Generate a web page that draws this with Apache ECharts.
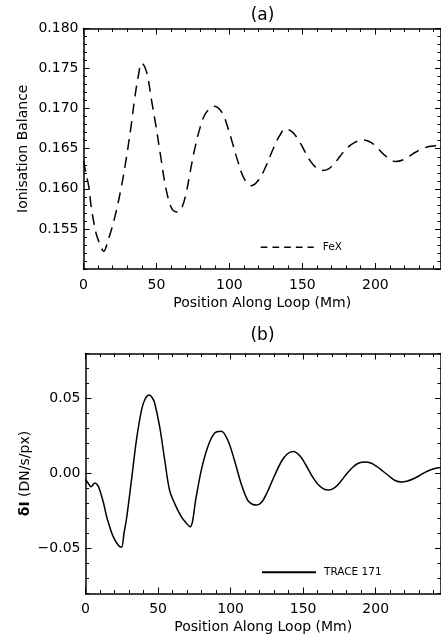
<!DOCTYPE html>
<html>
<head>
<meta charset="utf-8">
<script src="https://cdn.jsdelivr.net/npm/echarts@6/dist/echarts.min.js"></script>
<style>
html,body{margin:0;padding:0;background:#fff;}
#chart{width:441px;height:641px;}
</style>
</head>
<body>
<div id="chart"></div>
<script>
// ---------- Data ----------
const titlesText = ['(a)', '(b)'];
const xAxisName = 'Position Along Loop (Mm)';
const yNameA = 'Ionisation Balance';
const yNameB = '{b|δI} (DN/s/px)';
const seriesNameA = 'FeX';
const seriesNameB = 'TRACE 171';

// Panel (a): FeX ionisation balance
const xA = [0, 1.5, 3.7, 5.1, 7.2, 9, 11.5, 13.8, 16.9, 21.5, 26, 29.5, 32.9, 35.1, 37.5, 39.8, 42, 44.2, 46.5, 49.5, 52.5, 56, 59, 61.5, 64.5, 67.5, 70.4, 73, 76, 80, 84, 89.7, 95, 99, 102.1, 106, 110, 115, 120, 125, 130, 134, 138.5, 143, 147, 151, 155, 159, 163.5, 168, 172, 176, 180, 186, 191.9, 197, 202, 207, 214, 220, 226, 232, 238, 245];
const yA = [0.1635, 0.1621, 0.1602, 0.1580, 0.1557, 0.1542, 0.1530, 0.1522, 0.1536, 0.1565, 0.1603, 0.1640, 0.1682, 0.1713, 0.1740, 0.1757, 0.1752, 0.1738, 0.1712, 0.1680, 0.1645, 0.1605, 0.1582, 0.1573, 0.1571, 0.1577, 0.1595, 0.1620, 0.1648, 0.1677, 0.1695, 0.1703, 0.1695, 0.1676, 0.1657, 0.1633, 0.1613, 0.1604, 0.1611, 0.1628, 0.1650, 0.1665, 0.1675, 0.1671, 0.1662, 0.1649, 0.1636, 0.1627, 0.1623, 0.1625, 0.1632, 0.1641, 0.1650, 0.1658, 0.1661, 0.1658, 0.1650, 0.1641, 0.1634, 0.1637, 0.1644, 0.1650, 0.1653, 0.1654];

// Panel (b): TRACE 171 intensity perturbation
const xB = [0, 1.5, 3.8, 6.5, 8.5, 10, 12.5, 14.6, 16.5, 19.1, 22.5, 24.8, 26.5, 28.3, 31.7, 35.1, 38.6, 41, 43.8, 46, 47.7, 51.1, 54.6, 57.9, 61.4, 66, 69.5, 72.1, 76.3, 79.8, 84.3, 88.9, 93.5, 98, 102.6, 107.2, 111.7, 115, 118, 121.5, 125, 130, 135, 139, 143.2, 148, 152, 156, 160, 164, 167.8, 172, 176, 180, 184, 188, 192.7, 197, 201, 205, 209, 213, 217.9, 222, 226, 230, 234, 238, 242, 245];
const yB = [-0.0040, -0.0060, -0.0088, -0.0064, -0.0080, -0.0115, -0.0200, -0.0288, -0.0350, -0.0421, -0.0477, -0.0492, -0.0400, -0.0300, -0.0043, 0.0223, 0.0423, 0.0495, 0.0523, 0.0505, 0.0468, 0.0312, 0.0090, -0.0110, -0.0199, -0.0288, -0.0332, -0.0355, -0.0155, 0.0023, 0.0179, 0.0268, 0.0281, 0.0223, 0.0090, -0.0066, -0.0177, -0.0205, -0.0210, -0.0190, -0.0130, -0.0020, 0.0080, 0.0130, 0.0146, 0.0115, 0.0055, -0.0015, -0.0070, -0.0102, -0.0110, -0.0092, -0.0052, -0.0002, 0.0040, 0.0068, 0.0077, 0.0068, 0.0045, 0.0015, -0.0015, -0.0045, -0.0057, -0.0050, -0.0035, -0.0015, 0.0008, 0.0025, 0.0037, 0.0040];

// Axis ranges / ticks
const xRange = [0, 245];
const xMajor = 50, xMinor = 10;
const yRangeA = [0.150, 0.180];
const yMajorA = 0.005, yMinorA = 0.001;
const yRangeB = [-0.08, 0.08];
const yMajorValsB = [-0.05, 0, 0.05];
const yMinorB = 0.01;

// ---------- Styles ----------
const FONT = 'DejaVu Sans';
const INK = '#000';
const grids = [
  { left: 83.5, top: 28.5, width: 359, height: 240.5 },
  { left: 85.5, top: 353.5, width: 357, height: 240 }
];

const LINE_ON = { show: true, onZero: false, lineStyle: { color: INK, width: 1.5 } };
const LINE_OFF = { show: false, onZero: false };
const TICK_MAJ = { show: true, inside: true, length: 6, lineStyle: { color: INK, width: 1 } };
const TICK_MIN = { show: true, inside: true, length: 3.5, lineStyle: { color: INK, width: 1 } };

function xAxes(gi) {
  const base = { gridIndex: gi, type: 'value', min: xRange[0], max: xRange[1], splitLine: { show: false } };
  return [
    Object.assign({}, base, {
      position: 'bottom', interval: xMajor,
      axisLine: LINE_ON, axisTick: TICK_MAJ,
      axisLabel: { show: true, margin: 9, color: INK, fontFamily: FONT, fontSize: 14, showMaxLabel: false },
      name: xAxisName, nameLocation: 'middle', nameGap: 27, nameMoveOverlap: false,
      nameTextStyle: { color: INK, fontFamily: FONT, fontSize: 14 }
    }),
    Object.assign({}, base, {
      position: 'bottom', interval: xMinor,
      axisLine: LINE_OFF, axisTick: TICK_MIN, axisLabel: { show: false }
    }),
    Object.assign({}, base, {
      position: 'top', interval: xMajor,
      axisLine: LINE_ON, axisTick: TICK_MAJ, axisLabel: { show: false }
    }),
    Object.assign({}, base, {
      position: 'top', interval: xMinor,
      axisLine: LINE_OFF, axisTick: TICK_MIN, axisLabel: { show: false }
    })
  ];
}

function fmtB(v) {
  const s = Math.abs(v).toFixed(2);
  return (v < -1e-9 ? '\u2212' : '') + s;
}

const yAxis = [
  // panel a
  { gridIndex: 0, type: 'value', position: 'left', min: yRangeA[0], max: yRangeA[1], interval: yMajorA,
    splitLine: { show: false }, axisLine: LINE_ON, axisTick: TICK_MAJ,
    axisLabel: { show: true, margin: 5, color: INK, fontFamily: FONT, fontSize: 14, showMinLabel: false,
      formatter: v => v.toFixed(3) },
    name: yNameA, nameLocation: 'middle', nameGap: 53, nameMoveOverlap: false,
    nameTextStyle: { color: INK, fontFamily: FONT, fontSize: 14 } },
  { gridIndex: 0, type: 'value', position: 'left', min: yRangeA[0], max: yRangeA[1], interval: yMinorA,
    splitLine: { show: false }, axisLine: LINE_OFF, axisTick: TICK_MIN, axisLabel: { show: false } },
  { gridIndex: 0, type: 'value', position: 'right', min: yRangeA[0], max: yRangeA[1], interval: yMajorA,
    splitLine: { show: false }, axisLine: LINE_ON, axisTick: TICK_MAJ, axisLabel: { show: false } },
  { gridIndex: 0, type: 'value', position: 'right', min: yRangeA[0], max: yRangeA[1], interval: yMinorA,
    splitLine: { show: false }, axisLine: LINE_OFF, axisTick: TICK_MIN, axisLabel: { show: false } },
  // panel b
  { gridIndex: 1, type: 'value', position: 'left', min: yRangeB[0], max: yRangeB[1], interval: yMinorB,
    splitLine: { show: false }, axisLine: LINE_ON,
    axisTick: Object.assign({}, TICK_MAJ, { customValues: yMajorValsB }),
    axisLabel: { show: true, margin: 5, color: INK, fontFamily: FONT, fontSize: 14, customValues: yMajorValsB,
      formatter: fmtB },
    name: yNameB, nameLocation: 'middle', nameGap: 53, nameMoveOverlap: false,
    nameTextStyle: { color: INK, fontFamily: FONT, fontSize: 14,
      rich: { b: { fontWeight: 'bold', fontFamily: FONT, fontSize: 14, color: INK } } } },
  { gridIndex: 1, type: 'value', position: 'left', min: yRangeB[0], max: yRangeB[1], interval: yMinorB,
    splitLine: { show: false }, axisLine: LINE_OFF, axisTick: TICK_MIN, axisLabel: { show: false } },
  { gridIndex: 1, type: 'value', position: 'right', min: yRangeB[0], max: yRangeB[1], interval: yMinorB,
    splitLine: { show: false }, axisLine: LINE_ON,
    axisTick: Object.assign({}, TICK_MAJ, { customValues: yMajorValsB }), axisLabel: { show: false } },
  { gridIndex: 1, type: 'value', position: 'right', min: yRangeB[0], max: yRangeB[1], interval: yMinorB,
    splitLine: { show: false }, axisLine: LINE_OFF, axisTick: TICK_MIN, axisLabel: { show: false } }
];

const dataA = xA.map((x, i) => [x, yA[i]]);
const dataB = xB.map((x, i) => [x, yB[i]]);

const option = {
  animation: false,
  backgroundColor: '#fff',
  title: [
    { text: titlesText[0], left: 262.5, top: 7.5, textAlign: 'center', padding: 0,
      textStyle: { color: INK, fontFamily: FONT, fontSize: 17, fontWeight: 'normal' } },
    { text: titlesText[1], left: 262.5, top: 327.5, textAlign: 'center', padding: 0,
      textStyle: { color: INK, fontFamily: FONT, fontSize: 17, fontWeight: 'normal' } }
  ],
  legend: [
    { data: [seriesNameA], left: 260, top: 241.7, padding: 0, itemWidth: 53, itemHeight: 12, selectedMode: false,
      itemStyle: { opacity: 0 },
      lineStyle: { type: [6.7, 5], width: 1.5 },
      textStyle: { color: INK, fontFamily: FONT, fontSize: 10.5, padding: [0, 0, 0, 4] } },
    { data: [seriesNameB], left: 261, top: 566.7, padding: 0, itemWidth: 54, itemHeight: 12, selectedMode: false,
      itemStyle: { opacity: 0 },
      textStyle: { color: INK, fontFamily: FONT, fontSize: 10.5, padding: [0, 0, 0, 3] } }
  ],
  grid: grids,
  xAxis: xAxes(0).concat(xAxes(1)),
  yAxis: yAxis,
  series: [
    { name: seriesNameA, type: 'line', xAxisIndex: 0, yAxisIndex: 0, data: dataA,
      symbol: 'none', smooth: 0.35, lineStyle: { color: INK, width: 1.5, type: [11, 7] },
      itemStyle: { color: INK } },
    { name: seriesNameB, type: 'line', xAxisIndex: 4, yAxisIndex: 4, data: dataB,
      symbol: 'none', smooth: 0.35, lineStyle: { color: INK, width: 1.5, type: 'solid' },
      itemStyle: { color: INK } }
  ]
};

const chart = echarts.init(document.getElementById('chart'), null, { renderer: 'canvas' });
chart.setOption(option);
</script>
</body>
</html>
